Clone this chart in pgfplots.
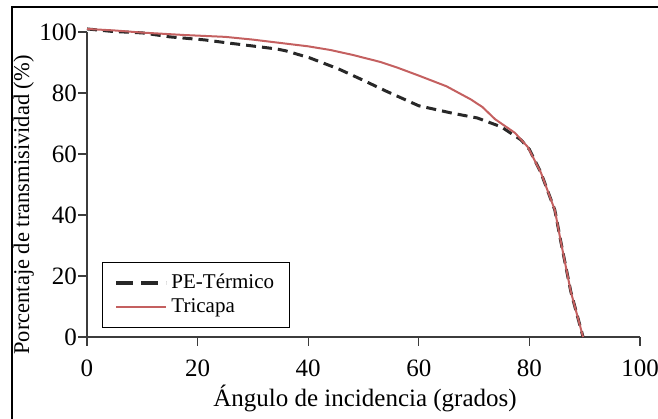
\documentclass[border=0pt]{standalone}
\usepackage{pgfplots}
\pgfplotsset{compat=1.18}
\usepackage{fontspec}
\setmainfont{Liberation Serif}
\definecolor{tricapa}{RGB}{196,96,96}
\definecolor{pedark}{RGB}{40,40,40}
\definecolor{axisgray}{RGB}{60,60,60}

\begin{document}
\fontsize{22}{26}\selectfont
\begin{tikzpicture}
\useasboundingbox (0,0) rectangle (658pt,419pt);
\draw[line width=2pt] (12pt,0pt) -- (12pt,412pt) -- (658pt,412pt);

\begin{axis}[
	at={(87pt,82pt)}, anchor=south west,
	scale only axis, width=553pt, height=305pt,
	xmin=0, xmax=100, ymin=0, ymax=100,
	xtick={0,20,...,100}, ytick={0,20,...,100},
	axis x line*=bottom, axis y line*=left,
	axis line style={draw=axisgray, line width=1.3pt},
	tick style={draw=axisgray, line width=1.3pt},
	tick align=outside, major tick length=9pt,
	/pgf/number format/assume math mode=true,
	tick label style={font=\fontsize{25}{28}\selectfont},
	xticklabel style={yshift=-6pt},
	yticklabel style={inner sep=1pt},
	clip=false,
	legend cell align=left,
	legend style={at={(rel axis cs:0.0271,0.0295)}, anchor=south west,
		draw=black, line width=1pt, inner xsep=12pt, inner ysep=9pt,
		font=\fontsize{21}{24}\selectfont, row sep=0pt,
		nodes={inner sep=3pt}},
	legend image code/.code={\draw[#1] (0pt,0pt) -- (50pt,0pt);},
]
\addplot[pedark, line width=3pt, dash pattern=on 10pt off 6pt,
	legend image post style={dash pattern=on 17pt off 8pt, line width=4pt}] coordinates {
	(0,101) (4.5,100.2) (10,99.7) (15,98.4) (21.3,97.4) (25.5,96.4) (30,95.4)
	(34.4,94.4) (36,93.8) (40.3,91.5) (45.6,87.8) (49.8,84.3) (54.1,80.6)
	(60,75.8) (66,73.4) (70.6,71.8) (74.9,68.9) (78.5,64.6) (80,61.5)
	(82.1,53.8) (84.6,41.6) (85.7,31.1) (87.5,14.8) (89.7,0)
};
\addlegendentry{PE-Térmico}
\addplot[tricapa, line width=2pt] coordinates {
	(0,101) (5,100.5) (10,99.8) (17.7,99) (25,98.4) (30,97.5) (35,96.4)
	(40,95.3) (44,94.1) (48,92.5) (53,90.2) (56,88.4) (60,85.7) (65,82.2)
	(69.4,77.9) (71.5,75.4) (73.8,71.4) (77.4,66.9) (79.7,62.3) (82.1,53.8)
	(84.6,41.6) (85.7,31.1) (87.5,14.8) (89.7,0)
};
\addlegendentry{Tricapa}
\end{axis}

\node[anchor=base, font=\fontsize{25}{28}\selectfont] at (365pt,12pt) {Ángulo de incidencia (grados)};
\node[rotate=90, anchor=base, font=\fontsize{22.5}{26}\selectfont] at (29pt,214pt) {Porcentaje de transmisividad (\%)};
\end{tikzpicture}
\end{document}
